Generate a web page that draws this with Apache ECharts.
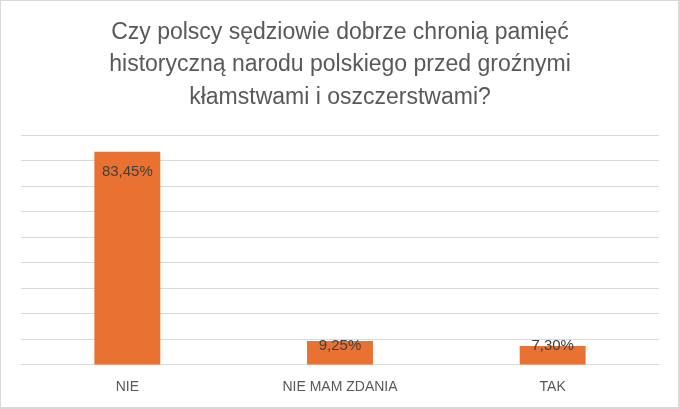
<!DOCTYPE html>
<html>
<head>
<meta charset="utf-8">
<script src="https://cdn.jsdelivr.net/npm/echarts@6/dist/echarts.min.js"></script>
<style>
html,body{margin:0;padding:0;background:#fff;}
#c{width:680px;height:409px;}
</style>
</head>
<body>
<div id="c"></div>
<script>
const titleLines = ["Czy polscy sędziowie dobrze chronią pamięć", "historyczną narodu polskiego przed groźnymi", "kłamstwami i oszczerstwami?"];
const categories = ["NIE", "NIE MAM ZDANIA", "TAK"];
const values = [83.45, 9.25, 7.30];
const yMin = 0, yMax = 90, yStep = 10;

const chart = echarts.init(document.getElementById('c'), null, {renderer: 'canvas'});
const fmt = v => v.toFixed(2).replace('.', ',') + '%';
chart.setOption({
  animation: false,
  backgroundColor: '#fff',
  graphic: [{
    type: 'rect',
    shape: {x: 0, y: 0, width: 679, height: 408},
    style: {fill: 'none', stroke: '#d9d9d9', lineWidth: 2},
    silent: true, z: 100
  }, {
    type: 'text',
    x: 340, y: 16,
    style: {
      text: titleLines.join('\n'),
      align: 'center',
      verticalAlign: 'top',
      fontFamily: 'Liberation Sans',
      fontSize: 23,
      lineHeight: 32.5,
      fill: '#595959'
    },
    silent: true
  }],
  grid: {left: 21, right: 21, top: 135, bottom: 44.5, containLabel: false},
  xAxis: {
    type: 'category',
    data: categories,
    axisLine: {show: true, lineStyle: {color: '#d9d9d9', width: 1}},
    axisTick: {show: false},
    axisLabel: {color: '#595959', fontSize: 14, fontFamily: 'Liberation Sans', margin: 16}
  },
  yAxis: {
    type: 'value',
    min: yMin, max: yMax, interval: yStep,
    axisLabel: {show: false},
    axisLine: {show: false},
    axisTick: {show: false},
    splitLine: {lineStyle: {color: '#d9d9d9', width: 1}}
  },
  series: [{
    type: 'bar',
    barWidth: '31%',
    data: values.map((v, i) => ({
      value: v,
      label: i === 0
        ? {position: 'insideTop', distance: 13}
        : {position: 'insideBottom', distance: 11}
    })),
    itemStyle: {color: '#E97132'},
    label: {
      show: true,
      formatter: p => fmt(p.value),
      color: '#404040',
      fontSize: 15,
      fontFamily: 'Liberation Sans'
    }
  }]
});
</script>
</body>
</html>
